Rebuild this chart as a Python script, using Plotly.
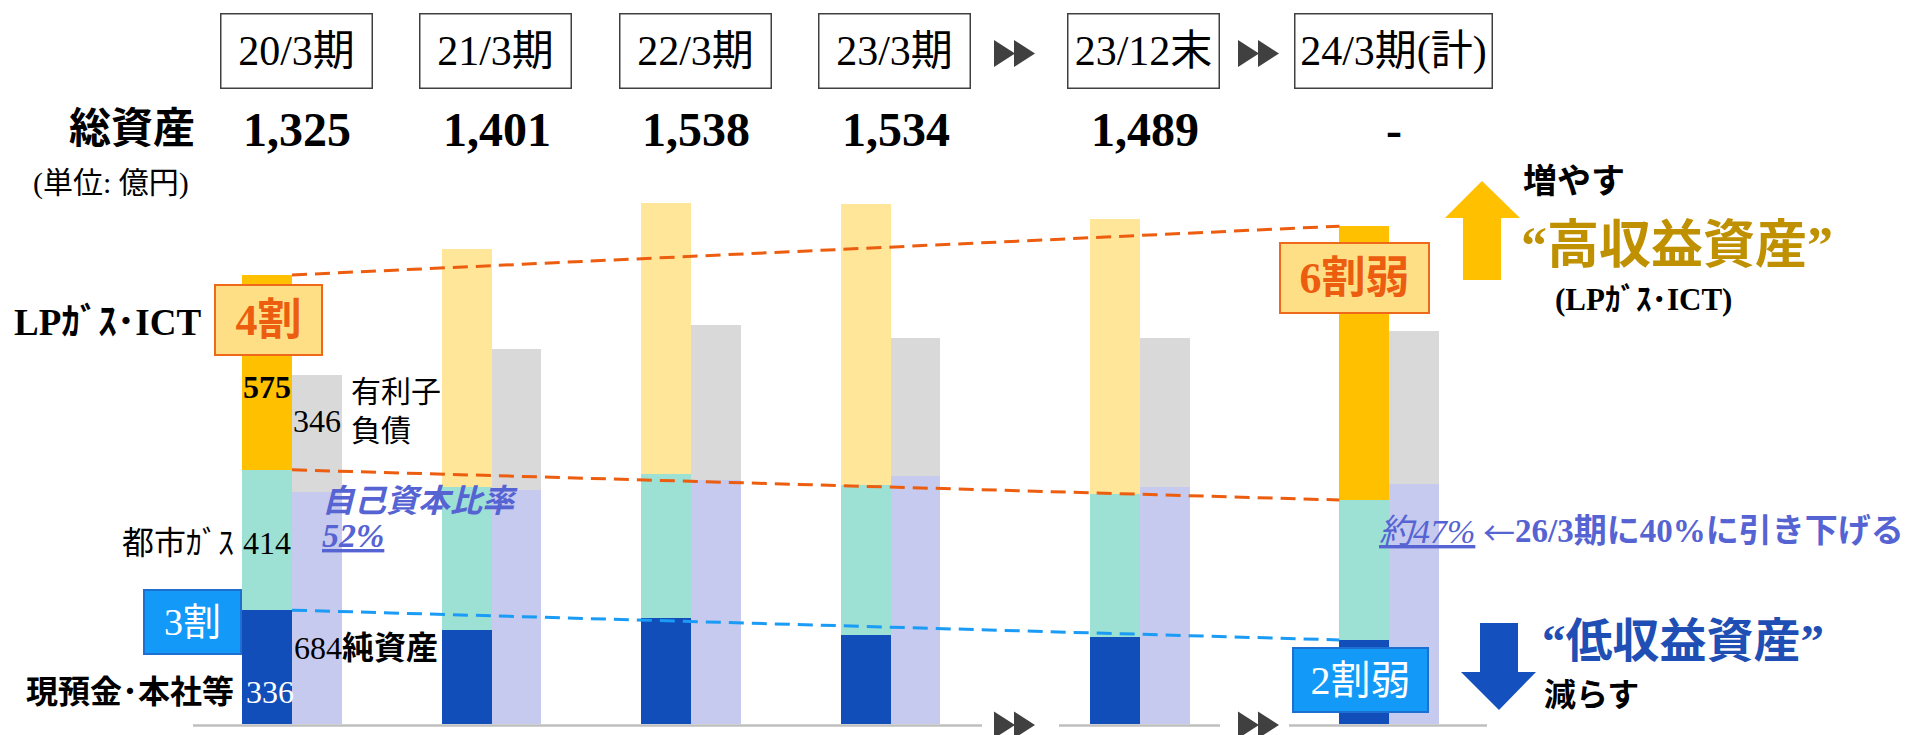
import plotly.graph_objects as go

# ---------------- data ----------------
periods = ["20/3期", "21/3期", "22/3期", "23/3期", "23/12末", "24/3期(計)"]
total_assets = ["1,325", "1,401", "1,538", "1,534", "1,489", "-"]
cash_hq = [336, 278, 313, 263, 257, 248]          # 現預金・本社等
city_gas = [414, 421, 424, 442, 423, 413]         # 都市ガス
lpg_ict = [575, 702, 801, 829, 809, 808]          # LPガス・ICT
net_assets = [684, 690, 719, 732, 700, 708]       # 純資産
int_debt = [346, 417, 458, 407, 440, 451]         # 有利子負債
share_lp_start, share_lp_end = "4割", "6割弱"
share_cash_start, share_cash_end = "3割", "2割弱"
equity_start, equity_end = "52%", "約47%"

# ---------------- layout helpers ----------------
W, H = 1915, 735
PX0, PXU = 292.0, 199.5       # pixel of x=0, pixels per x unit
BASE, PYU = 724.0, 0.3389     # pixel of y=0, pixels per value unit
BW = 0.25

pos = [i + 0.25 * max(0, i - 3) for i in range(len(periods))]
asset_x = [p - BW / 2 for p in pos]
liab_x = [p + BW / 2 for p in pos]


def X(px):
    return (px - PX0) / PXU


def Y(py):
    return (BASE - py) / PYU


SERIF = "Liberation Serif, Noto Sans CJK JP, serif"
CJK = "Noto Sans CJK JP, sans-serif"
C_CASH = "#124EBA"
C_GAS = "#9DE1D5"
C_LP_STRONG = "#FFC000"
C_LP_LIGHT = "#FFE699"
C_NET = "#C5CAEE"
C_DEBT = "#D9D9D9"
C_ORANGE = "#EC5D0F"
C_BLUE_DASH = "#1A9BF5"
C_EQ = "#5663D2"
lp_colors = [C_LP_STRONG if i in (0, len(pos) - 1) else C_LP_LIGHT for i in range(len(pos))]

fig = go.Figure()
common = dict(width=BW, marker_line_width=0, hoverinfo="skip", showlegend=False)
fig.add_bar(x=asset_x, y=cash_hq, marker_color=C_CASH, **common)
fig.add_bar(x=asset_x, y=city_gas, marker_color=C_GAS, **common)
fig.add_bar(x=asset_x, y=lpg_ict, marker_color=lp_colors, **common)
fig.add_bar(x=liab_x, y=net_assets, marker_color=C_NET, **common)
fig.add_bar(x=liab_x, y=int_debt, marker_color=C_DEBT, **common)

top_assets = [a + b + c for a, b, c in zip(cash_hq, city_gas, lpg_ict)]
lp_bottom = [a + b for a, b in zip(cash_hq, city_gas)]
lx = [pos[0], pos[-1] - BW]
dash = "15px,8px"
for ys, col in [([top_assets[0], top_assets[-1]], C_ORANGE),
                ([lp_bottom[0], lp_bottom[-1]], C_ORANGE),
                ([cash_hq[0], cash_hq[-1]], C_BLUE_DASH)]:
    fig.add_scatter(x=lx, y=ys, mode="lines", line=dict(color=col, width=3, dash=dash),
                    hoverinfo="skip", showlegend=False)

ann = []


def A(text, px, py, size, color="black", xanchor="center", family=SERIF, **kw):
    d = dict(text=text, x=X(px), y=Y(py), xref="x", yref="y", showarrow=False,
             xanchor=xanchor, yanchor="middle",
             font=dict(family=family, size=size, color=color))
    d.update(kw)
    ann.append(d)


# header boxes and totals
for i, p in enumerate(pos):
    wbox = 196 if i == len(pos) - 1 else 150
    ann.append(dict(text=periods[i], x=p, y=Y(51), xref="x", yref="y", showarrow=False,
                    xshift=4, width=wbox, height=73, borderpad=0, bordercolor="#404040",
                    borderwidth=1.5, font=dict(family=SERIF, size=42, color="black")))
    ann.append(dict(text=f"<b>{total_assets[i]}</b>", x=p, y=Y(129), xref="x", yref="y",
                    showarrow=False, xshift=5,
                    font=dict(family=SERIF, size=48, color="black")))

A("<b>総資産</b>", 197, 129, 42, xanchor="right")
A("(単位: 億円)", 111, 183, 30)

# left side labels
A("<b>LPｶﾞｽ･ICT</b>", 203, 322, 37, xanchor="right")
A(f"<b>{share_lp_start}</b>", 268.5, 320, 44, color=C_ORANGE, width=105, height=68,
  bgcolor="#FFDF86", bordercolor="#EE6A1A", borderwidth=2, borderpad=0)
A(f"<b>{lpg_ict[0]}</b>", 267, 387, 32)
A(f"{int_debt[0]}", 317, 421, 32)
A("有利子<br>負債", 349, 411, 30, xanchor="left", align="left")
A("<b><i>自己資本比率</i></b>", 320, 501, 32, color=C_EQ, xanchor="left")
A(f"<b><i><u>{equity_start}</u></i></b>", 320, 535, 34, color=C_EQ, xanchor="left")
A("都市ｶﾞｽ", 236, 543, 32, xanchor="right")
A(f"{city_gas[0]}", 267, 543, 32)
A(share_cash_start, 192.5, 622, 38, color="white", width=95, height=62,
  bgcolor="#139AF8", bordercolor="#1F6FD1", borderwidth=2, borderpad=0)
A(f"{net_assets[0]}<b>純資産</b>", 292, 648, 32, xanchor="left")
A("<b>現預金･本社等</b>", 236, 692, 32, xanchor="right")
A(f"{cash_hq[0]}", 270, 692, 32, color="white")

# right side labels
A(f"<b>{share_lp_end}</b>", 1354.5, 278, 44, color=C_ORANGE, width=147, height=68,
  bgcolor="#FFDF86", bordercolor="#EE6A1A", borderwidth=2, borderpad=0)
A("<b>増やす</b>", 1521, 181, 34, xanchor="left")
A("<b>“高収益資産”</b>", 1519, 245, 52, color="#BF9000", xanchor="left")
A("<b>(LPｶﾞｽ･ICT)</b>", 1553, 299, 31, xanchor="left")
A(f"<i><u>{equity_end}</u></i>", 1377, 531, 34, color=C_EQ, xanchor="left")
A("←", 1481, 531, 32, color=C_EQ, xanchor="left", family=CJK)
A("<b>26/3期に40%に引き下げる</b>", 1513, 531, 33, color=C_EQ, xanchor="left")
A(share_cash_end, 1360.5, 680, 40, color="white", width=133, height=62,
  bgcolor="#139AF8", bordercolor="#1F6FD1", borderwidth=2, borderpad=0)
A("<b>“低収益資産”</b>", 1540, 641, 47, color="#1F4FB5", xanchor="left")
A("<b>減らす</b>", 1542, 695, 32, xanchor="left")

# ---------------- decorative shapes ----------------
shapes = []


def path(points, color):
    d = "M " + " L ".join(f"{X(px):.4f},{Y(py):.3f}" for px, py in points) + " Z"
    shapes.append(dict(type="path", path=d, xref="x", yref="y", fillcolor=color,
                       line=dict(width=0), layer="above"))


path([(1482, 181), (1520, 218), (1501, 218), (1501, 280), (1463, 280), (1463, 218), (1445, 218)],
     "#FFC000")
path([(1499, 710), (1536, 672), (1518, 672), (1518, 623), (1480, 623), (1480, 672), (1461, 672)],
     "#1450BE")

for cx in (1014.5, 1258.5):
    for cy in (53.5, 725):
        path([(cx - 20.5, cy - 13.5), (cx + 0.5, cy), (cx - 20.5, cy + 13.5)], "#404040")
        path([(cx - 0.5, cy - 13.5), (cx + 20.5, cy), (cx - 0.5, cy + 13.5)], "#404040")

for a, b in [(193, 982), (1059, 1220), (1289, 1487)]:
    shapes.append(dict(type="line", xref="x", yref="y", x0=X(a), x1=X(b), y0=Y(725.5), y1=Y(725.5),
                       line=dict(color="#BFBFBF", width=2.5), layer="above"))

fig.update_layout(
    width=W, height=H, margin=dict(l=0, r=0, t=0, b=0),
    paper_bgcolor="white", plot_bgcolor="white",
    barmode="stack", bargap=0,
    xaxis=dict(range=[X(0), X(W)], visible=False, fixedrange=True),
    yaxis=dict(range=[Y(H), Y(0)], visible=False, fixedrange=True),
    annotations=ann, shapes=shapes, showlegend=False,
)
fig.write_html("out.html", config={"displayModeBar": False})
